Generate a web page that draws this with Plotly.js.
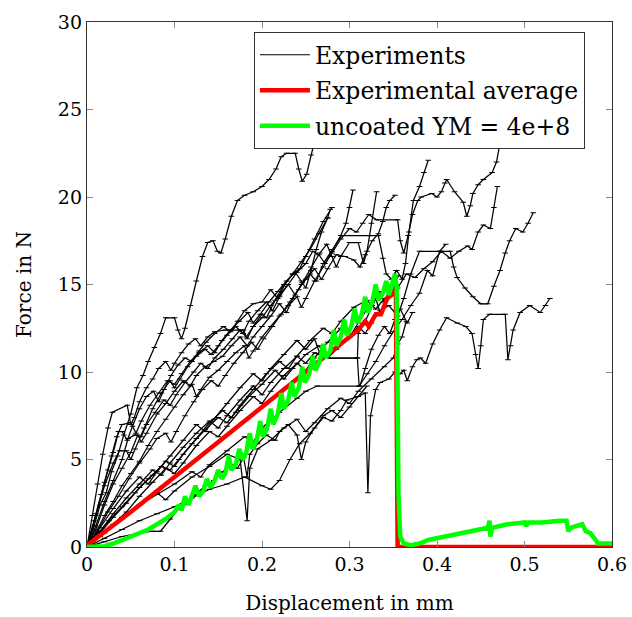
<!DOCTYPE html>
<html>
<head>
<meta charset="utf-8">
<script src="https://cdn.plot.ly/plotly-3.0.1.min.js"></script>
<style>html,body{margin:0;padding:0;background:#fff;}#chart{width:632px;height:617px;}</style>
</head>
<body>
<div id="chart"></div>
<script>
// ---- Data (x = displacement in mm, y = force in N) ----
const exp01 = [[0,0],[0.008,1.2],[0.015,2.4],[0.022,3.1],[0.028,4.3],[0.035,5.2],[0.042,6.4],[0.05,7.6],[0.057,9.1],[0.064,9.8],[0.07,10.6],[0.077,11.4],[0.084,12.2],[0.09,13.1],[0.1,13.1],[0.104,12.4],[0.108,11.9],[0.112,12.5],[0.118,13.8],[0.125,15.2],[0.132,16.6],[0.138,17.4],[0.144,17.5],[0.149,16.9],[0.153,16.8],[0.158,17.6],[0.165,18.9],[0.172,19.8],[0.18,20.1],[0.19,20.3],[0.2,20.6],[0.208,21.0],[0.216,21.6],[0.222,22.3],[0.228,22.5],[0.238,22.5],[0.242,21.6],[0.246,20.9],[0.251,21.3],[0.256,22.4],[0.262,23.6],[0.268,25.2],[0.274,26.8]];
const exp02 = [[0,0],[0.01,1.0],[0.02,2.4],[0.03,3.6],[0.04,4.5],[0.05,5.4],[0.058,6.4],[0.062,6.0],[0.068,6.5],[0.08,7.6],[0.09,8.2],[0.1,8.9],[0.11,9.5],[0.118,9.2],[0.125,9.8],[0.135,10.3],[0.145,10.6],[0.155,10.9],[0.165,11.5],[0.175,12.0],[0.183,11.5],[0.19,12.0],[0.2,12.6],[0.21,13.2],[0.22,13.9],[0.228,13.4],[0.235,14.2],[0.245,15.0],[0.255,15.6],[0.262,15.2],[0.27,16.2],[0.28,17.0],[0.291,17.8],[0.333,17.8],[0.338,16.5],[0.342,15.6],[0.348,15.3],[0.354,15.8],[0.36,15.3],[0.364,16.2],[0.368,18.0],[0.373,19.8],[0.38,20.6],[0.385,21.4],[0.39,22.1]];
const exp03 = [[0,0],[0.01,0.8],[0.02,1.8],[0.03,2.6],[0.04,3.5],[0.05,4.2],[0.06,4.9],[0.07,5.8],[0.08,6.6],[0.09,7.3],[0.1,8.0],[0.11,8.7],[0.12,9.3],[0.125,8.6],[0.13,9.0],[0.14,9.7],[0.15,10.1],[0.16,10.6],[0.17,11.1],[0.18,11.5],[0.185,10.8],[0.19,11.2],[0.2,12.0],[0.21,12.6],[0.22,13.2],[0.23,13.8],[0.24,14.3],[0.245,13.7],[0.25,14.2],[0.26,15.2],[0.27,16.0],[0.28,16.8],[0.29,17.6],[0.3,18.2],[0.308,18.0],[0.315,18.5],[0.322,19.0],[0.331,18.7],[0.355,18.7],[0.358,17.5],[0.362,16.8],[0.367,17.8],[0.372,19.0],[0.378,19.8],[0.382,20.0],[0.394,20.2],[0.4,20.0],[0.405,20.3],[0.409,20.8],[0.411,21.0],[0.42,20.3],[0.43,19.7],[0.434,18.9],[0.438,19.5],[0.441,20.2],[0.447,20.7],[0.453,21.0],[0.463,21.4],[0.468,22.0],[0.471,22.8],[0.475,23.6]];
const exp04 = [[0,0],[0.01,1.8],[0.02,3.5],[0.03,4.8],[0.037,5.5],[0.045,5.5],[0.05,5.0],[0.055,5.6],[0.065,6.8],[0.075,7.9],[0.085,8.8],[0.095,9.5],[0.1,9.1],[0.106,9.6],[0.115,10.3],[0.125,10.9],[0.135,11.3],[0.142,11.0],[0.15,11.5],[0.16,12.1],[0.17,12.6],[0.178,12.2],[0.185,12.9],[0.195,13.5],[0.205,14.0],[0.212,13.5],[0.22,14.3],[0.23,15.0],[0.24,15.7],[0.25,16.2],[0.258,16.9],[0.265,16.7],[0.272,16.2],[0.28,16.9],[0.29,17.8],[0.296,18.5],[0.3,19.4],[0.304,20.4]];
const exp05 = [[0,0],[0.01,1.2],[0.02,2.6],[0.03,3.8],[0.04,5.0],[0.047,6.2],[0.055,6.4],[0.062,6.3],[0.068,7.0],[0.078,7.7],[0.088,8.4],[0.095,8.1],[0.102,8.7],[0.112,9.4],[0.122,10.0],[0.13,10.5],[0.138,10.2],[0.146,10.8],[0.156,11.3],[0.166,11.9],[0.175,12.4],[0.182,12.0],[0.19,12.6],[0.2,13.1],[0.21,13.8],[0.22,14.4],[0.23,15.0],[0.238,14.4],[0.246,15.1],[0.256,16.0],[0.266,16.8],[0.274,17.3],[0.28,16.6],[0.285,16.0],[0.29,16.6],[0.3,17.4],[0.31,17.4],[0.316,16.2],[0.32,16.9],[0.325,18.5],[0.331,20.3]];
const exp06 = [[0,0],[0.012,0.9],[0.024,2.0],[0.036,2.9],[0.048,3.9],[0.06,4.8],[0.072,5.6],[0.08,6.2],[0.09,6.5],[0.096,6.0],[0.102,6.6],[0.112,7.5],[0.122,8.3],[0.132,9.0],[0.142,9.5],[0.15,9.2],[0.158,9.8],[0.168,10.5],[0.178,11.1],[0.188,11.7],[0.195,11.3],[0.202,11.9],[0.212,12.6],[0.222,13.3],[0.232,14.0],[0.242,14.7],[0.25,15.3],[0.26,15.9],[0.268,15.3],[0.275,15.9],[0.285,16.7],[0.295,16.6],[0.305,16.4],[0.312,16.0],[0.318,16.7],[0.326,17.5],[0.333,17.9],[0.338,18.6],[0.342,19.4],[0.346,19.8],[0.352,20.1]];
const exp07 = [[0,0],[0.012,0.7],[0.025,1.5],[0.04,2.3],[0.055,3.1],[0.07,3.9],[0.085,4.6],[0.095,4.4],[0.105,5.0],[0.12,5.9],[0.135,6.7],[0.15,7.4],[0.16,7.1],[0.17,7.7],[0.185,8.6],[0.2,9.3],[0.215,10.1],[0.225,9.6],[0.235,10.2],[0.25,11.0],[0.265,11.5],[0.275,10.8],[0.285,11.3],[0.3,12.0],[0.31,12.6],[0.318,12.2],[0.325,12.8],[0.335,13.5],[0.345,13.8],[0.355,13.2],[0.362,14.2],[0.37,15.6],[0.38,16.9],[0.415,16.9],[0.419,16.0],[0.423,15.4],[0.432,14.8],[0.441,14.3],[0.45,13.9],[0.458,13.9],[0.465,14.9],[0.472,15.8],[0.478,16.8],[0.483,17.5],[0.49,18.2],[0.498,18.0],[0.504,18.5],[0.51,19.1]];
const exp08 = [[0,0],[0.015,0.8],[0.03,1.7],[0.045,2.5],[0.06,3.4],[0.075,4.1],[0.09,4.9],[0.1,4.6],[0.11,5.3],[0.125,6.2],[0.14,7.1],[0.155,7.8],[0.165,7.4],[0.175,8.1],[0.19,9.0],[0.205,9.9],[0.22,10.6],[0.23,10.2],[0.24,10.9],[0.255,11.8],[0.27,12.5],[0.28,12.2],[0.29,12.9],[0.305,13.7],[0.32,14.1],[0.33,13.6],[0.34,14.2],[0.355,14.8],[0.365,15.6],[0.375,15.4],[0.385,15.9],[0.395,16.3],[0.405,16.9],[0.415,16.5],[0.425,16.9],[0.435,17.2],[0.44,17.0],[0.447,18.0],[0.453,18.4],[0.461,18.2],[0.465,19.4],[0.469,20.6]];
const exp09 = [[0,0],[0.02,0.5],[0.04,1.0],[0.06,1.5],[0.08,1.9],[0.1,2.3],[0.12,2.8],[0.14,3.3],[0.16,3.6],[0.18,4.0],[0.2,3.5],[0.21,3.3],[0.22,3.8],[0.232,5.0],[0.243,5.9],[0.255,6.5],[0.27,7.4],[0.28,7.2],[0.29,7.8],[0.297,8.4],[0.31,8.6],[0.318,8.8],[0.321,3.1],[0.324,7.5],[0.33,9.0],[0.335,9.4],[0.345,9.6],[0.352,10.0],[0.358,9.9],[0.362,10.1],[0.366,9.5],[0.372,10.3],[0.377,10.7],[0.381,10.8],[0.387,10.5],[0.395,11.6],[0.403,12.4],[0.411,13.1],[0.423,12.8],[0.433,12.6],[0.44,12.2],[0.444,11.0],[0.447,10.2],[0.45,11.5],[0.453,13.0],[0.46,13.3],[0.478,13.3],[0.481,10.7],[0.484,11.5],[0.487,12.4],[0.495,13.4],[0.506,13.8],[0.518,13.4],[0.524,13.8],[0.529,14.2]];
const exp10 = [[0,0],[0.02,0.8],[0.04,1.6],[0.06,2.4],[0.08,3.1],[0.09,2.7],[0.1,3.2],[0.12,4.0],[0.14,4.6],[0.16,5.3],[0.175,5.0],[0.183,1.5],[0.186,4.5],[0.195,5.6],[0.21,6.1],[0.225,6.8],[0.24,7.3],[0.25,6.6],[0.26,7.1],[0.275,7.9],[0.29,8.5],[0.3,8.2],[0.31,8.9],[0.325,9.6],[0.34,10.3],[0.35,10.8],[0.355,11.6],[0.36,12.0],[0.365,12.9]];
const exp11 = [[0,0],[0.015,1.1],[0.03,2.2],[0.045,3.2],[0.06,4.0],[0.07,3.6],[0.08,4.3],[0.095,5.2],[0.11,6.1],[0.125,7.0],[0.135,6.6],[0.145,7.3],[0.16,8.2],[0.175,9.1],[0.19,9.9],[0.2,9.5],[0.21,10.2],[0.225,11.0],[0.24,11.8],[0.25,11.3],[0.26,11.9],[0.268,10.8],[0.309,10.8],[0.311,9.2],[0.32,9.9],[0.33,10.6],[0.34,11.5],[0.35,12.3],[0.36,13.0],[0.37,13.8],[0.38,14.5],[0.389,15.8],[0.395,15.5],[0.403,16.9],[0.41,17.3]];
const exp12 = [[0,0],[0.008,1.5],[0.016,3.0],[0.024,4.4],[0.03,5.4],[0.036,6.6],[0.04,6.6],[0.046,6.1],[0.052,6.9],[0.06,7.9],[0.068,8.6],[0.076,8.9],[0.082,8.3],[0.088,9.0],[0.096,9.8],[0.104,10.4],[0.112,10.8],[0.12,10.6],[0.128,11.2],[0.136,11.7],[0.146,12.2],[0.156,12.6],[0.164,12.3],[0.172,12.9],[0.18,13.5],[0.19,13.9],[0.2,14.0],[0.21,14.7],[0.218,14.2],[0.225,14.9],[0.235,15.6],[0.245,16.3],[0.255,17.0],[0.265,17.9],[0.275,18.8],[0.278,19.3]];
const exp13 = [[0,0],[0.01,1.9],[0.02,3.7],[0.028,5.2],[0.034,6.3],[0.04,7.0],[0.05,7.1],[0.056,6.5],[0.062,7.2],[0.072,8.1],[0.082,8.8],[0.092,9.5],[0.1,9.3],[0.108,9.9],[0.118,10.6],[0.128,11.1],[0.138,11.5],[0.146,11.1],[0.154,11.8],[0.164,12.4],[0.174,12.9],[0.184,13.4],[0.19,12.8],[0.198,13.3],[0.208,14.0],[0.218,14.6],[0.228,15.2],[0.238,15.7],[0.245,15.2],[0.25,14.8],[0.256,15.8],[0.262,17.0],[0.268,18.0],[0.275,18.8]];
const exp14 = [[0,0],[0.015,0.6],[0.03,1.3],[0.045,2.0],[0.06,2.9],[0.075,3.7],[0.09,4.5],[0.1,4.2],[0.11,4.8],[0.125,5.8],[0.14,6.6],[0.15,6.3],[0.16,6.9],[0.175,7.8],[0.19,8.6],[0.2,8.2],[0.21,8.9],[0.225,9.8],[0.24,10.5],[0.25,10.1],[0.26,10.8],[0.275,11.7],[0.29,12.5],[0.3,12.0],[0.31,12.8],[0.32,13.6],[0.33,14.2],[0.335,13.4],[0.342,14.1],[0.35,14.9],[0.356,15.5]];
const exp15 = [[0,0],[0.02,0.3],[0.04,0.6],[0.06,0.8],[0.075,0.9],[0.084,0.9],[0.095,1.6],[0.105,2.2],[0.114,2.5],[0.125,3.0],[0.135,3.5],[0.145,3.8],[0.155,4.3],[0.165,4.7],[0.172,4.5],[0.179,5.1],[0.183,4.0],[0.186,5.3],[0.195,5.9],[0.205,6.4],[0.215,6.1],[0.22,6.6],[0.23,7.0],[0.24,6.4],[0.245,5.0],[0.25,6.0],[0.26,6.8],[0.27,7.5],[0.28,7.8],[0.29,7.4],[0.3,8.0],[0.31,8.6],[0.32,9.2]];
const exp16 = [[0,0],[0.006,1.8],[0.012,3.6],[0.018,5.3],[0.024,6.8],[0.029,7.7],[0.046,8.1],[0.05,7.0],[0.054,7.4],[0.06,8.3],[0.068,9.1],[0.075,9.6],[0.082,10.2],[0.09,10.6],[0.096,10.1],[0.1,10.5],[0.108,11.1],[0.116,11.6],[0.124,11.9],[0.13,11.5],[0.138,12.0],[0.146,12.3],[0.158,12.4],[0.179,12.4],[0.183,11.9],[0.19,12.6],[0.2,13.3],[0.205,13.1],[0.215,14.1],[0.225,15.0],[0.235,15.6],[0.243,15.9],[0.25,16.6],[0.26,17.6],[0.27,18.6],[0.28,19.4]];
const exp17 = [[0,0],[0.02,0.9],[0.04,1.7],[0.06,2.4],[0.08,3.0],[0.1,3.6],[0.12,4.3],[0.13,4.0],[0.14,4.7],[0.16,5.5],[0.18,6.3],[0.19,6.0],[0.2,6.8],[0.22,7.7],[0.24,8.5],[0.25,8.9],[0.263,9.2],[0.312,9.2],[0.318,10.2],[0.325,11.3],[0.333,12.1],[0.34,12.6],[0.346,12.2],[0.352,13.0],[0.358,13.6],[0.366,12.8],[0.372,13.4]];
const exp18 = [[0,0],[0.015,0.9],[0.03,1.9],[0.045,2.8],[0.06,3.6],[0.075,4.4],[0.085,4.1],[0.095,4.8],[0.11,5.7],[0.125,6.5],[0.14,7.2],[0.15,6.8],[0.16,7.5],[0.175,8.4],[0.19,9.2],[0.2,8.7],[0.21,9.4],[0.225,10.2],[0.24,10.9],[0.25,10.5],[0.26,11.1],[0.274,10.8],[0.309,10.8],[0.31,12.2],[0.318,12.9],[0.326,13.8],[0.334,14.6],[0.34,14.0],[0.347,14.9],[0.353,15.8]];

const experiments = [exp01, exp02, exp03, exp04, exp05, exp06, exp07, exp08, exp09,
                     exp10, exp11, exp12, exp13, exp14, exp15, exp16, exp17, exp18];

const average = [[0,0.1],[0.05,2.0],[0.1,4.0],[0.15,6.0],[0.2,8.0],[0.25,10.0],[0.3,12.0],[0.31,12.4],[0.318,12.9],[0.322,12.6],[0.33,13.3],[0.336,13.3],[0.343,14.2],[0.348,14.4],[0.353,14.8],[0.355,0],[0.6,0]];

const uncoated = [[0,0],[0.01,0.0],[0.02,0.05],[0.03,0.2],[0.04,0.4],[0.05,0.6],[0.06,0.8],[0.07,1.0],[0.08,1.3],[0.09,1.6],[0.1,2.0],[0.105,2.4],[0.108,2.1],[0.112,2.9],[0.116,2.4],[0.12,2.9],[0.124,3.5],[0.128,2.9],[0.133,3.2],[0.137,3.9],[0.141,3.4],[0.146,3.8],[0.15,4.4],[0.154,3.9],[0.158,4.2],[0.162,5.2],[0.165,4.4],[0.17,4.7],[0.174,5.6],[0.178,5.0],[0.182,5.4],[0.186,6.5],[0.189,5.6],[0.194,6.1],[0.198,7.2],[0.201,6.3],[0.206,6.8],[0.21,7.9],[0.213,7.0],[0.218,7.6],[0.222,8.8],[0.225,7.9],[0.23,8.4],[0.234,9.4],[0.237,8.6],[0.242,9.1],[0.246,10.3],[0.249,9.4],[0.254,9.9],[0.258,10.9],[0.261,10.1],[0.266,10.6],[0.27,11.6],[0.273,10.8],[0.278,11.2],[0.282,12.4],[0.285,11.5],[0.29,12.0],[0.294,13.0],[0.297,12.1],[0.302,12.6],[0.306,13.6],[0.309,12.8],[0.314,13.3],[0.318,14.3],[0.321,13.4],[0.326,14.0],[0.33,15.0],[0.333,14.1],[0.338,14.5],[0.342,15.2],[0.345,14.4],[0.349,15.0],[0.352,15.6],[0.354,14.8],[0.355,10],[0.356,3],[0.358,0.6],[0.362,0.2],[0.37,0.1],[0.38,0.2],[0.39,0.4],[0.4,0.5],[0.42,0.7],[0.44,0.9],[0.458,1.1],[0.46,1.5],[0.461,0.6],[0.463,1.1],[0.48,1.3],[0.5,1.4],[0.502,1.2],[0.504,1.4],[0.52,1.4],[0.54,1.5],[0.548,1.5],[0.55,0.9],[0.553,1.1],[0.556,1.15],[0.566,1.3],[0.57,0.9],[0.575,0.8],[0.58,0.5],[0.584,0.2],[0.6,0.2]];

const xTicks = [0, 0.1, 0.2, 0.3, 0.4, 0.5, 0.6];
const yTicks = [0, 5, 10, 15, 20, 25, 30];

// ---- Build traces ----
const xs = d => d.map(p => p[0]);
const ys = d => d.map(p => p[1]);
const traces = experiments.map((d, i) => ({
  x: xs(d), y: ys(d), type: 'scatter', mode: 'lines+markers',
  name: 'Experiments', legendgroup: 'exp', showlegend: false,
  line: {color: '#000', width: 1.25},
  marker: {symbol: 'line-ew-open', size: 4, color: '#000', line: {color: '#000', width: 1}},
  hoverinfo: 'skip'
}));
// legend entry for the experiments (plain line, no data of its own)
traces.push({x: [null], y: [null], type: 'scatter', mode: 'lines',
  name: 'Experiments', legendgroup: 'exp', showlegend: true,
  line: {color: '#000', width: 1}});
traces.push({x: xs(average), y: ys(average), type: 'scatter', mode: 'lines',
  name: 'Experimental average', legendgroup: 'avg',
  line: {color: '#ff0000', width: 4.5}});
traces.push({x: xs(uncoated), y: ys(uncoated), type: 'scatter', mode: 'lines',
  name: 'uncoated YM = 4e+8', legendgroup: 'unc',
  line: {color: '#00ff00', width: 4.5}});

const serif = 'DejaVu Serif, serif';
const axisBase = {
  showline: true, linecolor: '#333', linewidth: 1.2, mirror: 'ticks',
  ticks: 'inside', ticklen: 6, tickcolor: '#888', tickwidth: 1,
  showgrid: false, zeroline: false, tickfont: {family: serif, size: 19, color: '#000'}
};
const layout = {
  width: 632, height: 617,
  margin: {l: 87, r: 20, t: 22, b: 70},
  paper_bgcolor: '#fff', plot_bgcolor: '#fff',
  font: {family: serif, color: '#000'},
  xaxis: Object.assign({}, axisBase, {range: [0, 0.6], tickvals: xTicks,
    ticktext: xTicks.map(String),
    title: {text: 'Displacement in mm', font: {family: serif, size: 20}, standoff: 22}}),
  yaxis: Object.assign({}, axisBase, {range: [0, 30], tickvals: yTicks,
    ticktext: yTicks.map(String),
    title: {text: 'Force in N', font: {family: serif, size: 20}, standoff: 20}}),
  legend: {x: 0.318, y: 0.981, xanchor: 'left', yanchor: 'top',
    bgcolor: '#fff', bordercolor: '#333', borderwidth: 1,
    font: {family: serif, size: 23.5, color: '#000'},
    itemwidth: 50,
    traceorder: 'grouped', tracegroupgap: 2},
  showlegend: true
};
Plotly.newPlot('chart', traces, layout, {displayModeBar: false, staticPlot: true});
</script>
</body>
</html>
